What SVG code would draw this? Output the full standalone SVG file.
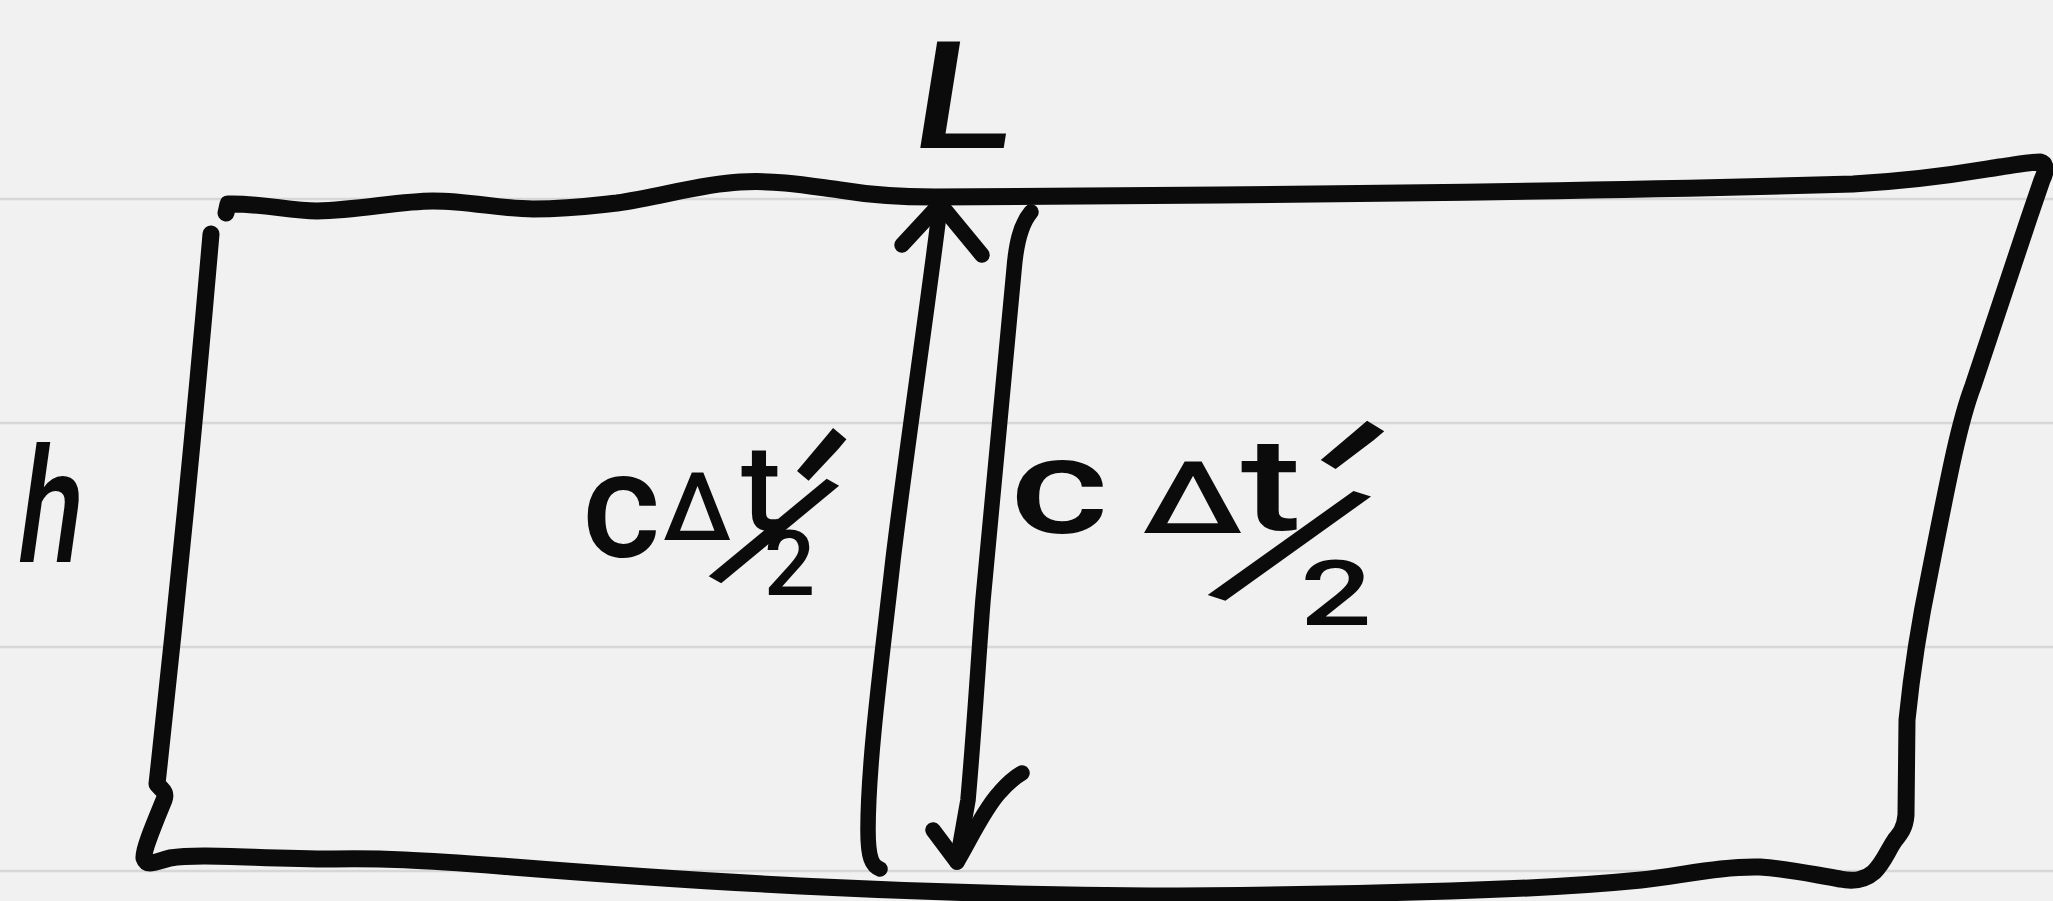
<svg xmlns="http://www.w3.org/2000/svg" width="2053" height="901" viewBox="0 0 2053 901">
<style>
.bg{fill:#f1f1f1}
.rule{stroke:#d7d7d7;stroke-width:2.5;fill:none}
.ink{fill:none;stroke:#0b0b0b;stroke-linecap:round;stroke-linejoin:round}
.outline{stroke-width:17}
.thin{stroke-width:15.5}
.hand{font-family:Roboto,"Liberation Sans",sans-serif;font-weight:500;fill:#0b0b0b}
.tick{font-weight:400}
</style>
<g id="paper">
<rect class="bg" x="0" y="0" width="2053" height="901"/>
<line class="rule" x1="0" y1="199" x2="2053" y2="199"/>
<line class="rule" x1="0" y1="423" x2="2053" y2="423"/>
<line class="rule" x1="0" y1="647" x2="2053" y2="647"/>
<line class="rule" x1="0" y1="871" x2="2053" y2="871"/>
</g>
<g id="box">
<path class="ink outline" d="M226,213 L228,204 C260,203 290,211 317,211 C360,210 400,201 433,201 C470,201 500,209 533,209 C570,209 590,206 617,203 C660,197 700,184 740,182 C780,180 810,186 840,190 C870,195 900,197 935,197 L1220,195 C1450,193 1650,190 1853,184 C1930,180 1980,170 2000,167 C2015,165 2030,162 2040,162 C2047,164 2046,172 2042,180 L2029,218 L1973,386 C1960,420 1950,470 1930,572 C1920,620 1912,670 1907,720 L1906,815 C1905,828 1900,834 1895,840 C1888,850 1884,862 1874,872 C1865,880 1855,882 1840,879 C1810,874 1790,869 1760,867 C1720,866 1680,876 1641,880 C1580,886 1520,889 1450,891 C1350,894 1250,896 1150,896 C1000,895 900,891 800,886 C700,881 600,874 500,866 C420,860 380,858 333,859 C260,859 200,853 170,858 C155,862 147,867 144,858 C143,850 155,822 164,800 C167,792 162,790 157,784 C175,620 195,420 211,234"/>
</g>
<g id="connectors">
<path class="ink thin" d="M940,206 C930,290 905,460 893,560 C883,650 868,760 868,830 C868,858 872,866 880,869"/>
<path class="ink thin" d="M902,245 L940,204 L982,255"/>
<path class="ink thin" d="M1031,212 C1020,225 1016,245 1014,270 L983,600 C979,650 975,720 968,800 L957,862"/>
<path class="ink thin" d="M933,830 L957,862 C970,840 985,808 1000,792 C1008,783 1015,777 1022,773"/>
</g>
<g id="label-L">
<text class="hand" font-size="150" transform="translate(923,148) skewX(-9) scale(1.25,1)" x="-13" y="0">L</text>
</g>
<g id="label-h">
<text class="hand" font-size="160" transform="translate(23,562) skewX(-8) scale(0.72,1)" x="-14" y="0">h</text>
</g>
<g id="label-left">
<text class="hand"><tspan x="582" y="557" font-size="150">c</tspan><tspan x="663" y="540" font-size="95">Δ</tspan><tspan x="741" y="530" font-size="120">t</tspan><tspan class="tick" x="708" y="558" font-size="240" rotate="40">′</tspan><tspan x="712.8" y="565.5" font-size="185" rotate="29.4" font-weight="400">/</tspan><tspan x="764" y="595" font-size="90">2</tspan></text>
</g>
<g id="label-right">
<text class="hand" transform="translate(1000,0) scale(1.4,1)"><tspan x="7" y="533" font-size="135">c</tspan><tspan x="101.6" y="533" font-size="100">Δ</tspan><tspan x="172" y="530" font-size="130">t</tspan><tspan class="tick" x="147.5" y="540" font-size="220" rotate="40">′</tspan><tspan x="151.3" y="584.4" font-size="178" rotate="24" font-weight="400">/</tspan><tspan x="214.5" y="625" font-size="90">2</tspan></text>
</g>
</svg>
